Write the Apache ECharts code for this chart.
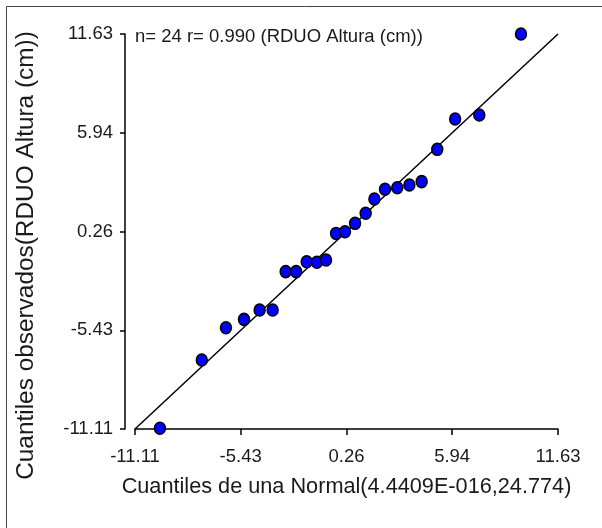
<!DOCTYPE html>
<html>
<head>
<meta charset="utf-8">
<script src="https://cdn.jsdelivr.net/npm/echarts@6/dist/echarts.min.js"></script>
<style>html,body{margin:0;padding:0;background:#fff}#c{width:602px;height:528px}</style>
</head>
<body>
<div id="c"></div>
<script>
// Theoretical normal quantiles (x) and observed quantiles (y)
const theoQuantiles = [-9.77,-7.52,-6.22,-5.25,-4.41,-3.71,-3.01,-2.45,-1.88,-1.33,-0.84,-0.30,0.18,0.72,1.29,1.76,2.33,2.99,3.64,4.30,5.14,6.10,7.40,9.64];
const obsQuantiles  = [-11.07,-7.14,-5.28,-4.80,-4.26,-4.26,-2.05,-2.05,-1.48,-1.51,-1.38,0.15,0.25,0.73,1.31,2.13,2.69,2.78,2.94,3.13,4.99,6.74,6.97,11.63];
const refLine = [[-11.11,-11.11],[11.63,11.63]];
const xTicks = [-11.11,-5.43,0.26,5.94,11.63];
const yTicks = [-11.11,-5.43,0.26,5.94,11.63];
const axisMin = -11.11, axisMax = 11.63;
const titleText = 'n= 24 r= 0.990 (RDUO Altura (cm))';
const xName = 'Cuantiles de una Normal(4.4409E-016,24.774)';
const yName = 'Cuantiles observados(RDUO Altura (cm))';

const pts = theoQuantiles.map((x,i)=>[x,obsQuantiles[i]]);
const chart = echarts.init(document.getElementById('c'), null, {renderer:'canvas'});
const FONT = '"Liberation Sans", Arial, sans-serif';
const TXT = '#1a1a1a';
chart.setOption({
  animation:false,
  backgroundColor:'#fff',
  grid:{left:135,right:44,top:34,bottom:99,containLabel:false},
  graphic:[
    {type:'rect',shape:{x:6.5,y:6.5,width:800,height:800},style:{fill:null,stroke:'#444',lineWidth:1},silent:true},
    {type:'text',left:135,top:27.5,style:{text:titleText,font:'18.5px '+FONT,fill:TXT}}
  ],
  xAxis:{type:'value',min:axisMin,max:axisMax,
    name:xName,nameLocation:'middle',nameGap:47,
    nameTextStyle:{fontFamily:FONT,fontSize:21.7,color:TXT},
    axisLine:{onZero:false,lineStyle:{color:'#000',width:1.5}},
    axisTick:{show:true,length:6,lineStyle:{color:'#000',width:1.5},customValues:xTicks},
    axisLabel:{customValues:xTicks,margin:18,fontFamily:FONT,fontSize:18.5,color:TXT,formatter:v=>v.toFixed(2)},
    splitLine:{show:false}},
  yAxis:{type:'value',min:axisMin,max:axisMax,offset:10,
    name:yName,nameLocation:'middle',nameGap:87,
    nameTextStyle:{fontFamily:FONT,fontSize:24.4,color:TXT,padding:[0,48,0,0]},
    axisLine:{show:true,onZero:false,lineStyle:{color:'#000',width:1.5}},
    axisTick:{show:true,length:5,lineStyle:{color:'#000',width:1.5},customValues:yTicks},
    axisLabel:{customValues:yTicks,margin:12,fontFamily:FONT,fontSize:18.5,color:TXT,formatter:v=>v.toFixed(2)},
    splitLine:{show:false}},
  series:[
    {type:'line',data:refLine,symbol:'none',lineStyle:{color:'#000',width:1.5},z:2,silent:true,clip:false},
    {type:'scatter',data:pts,symbol:'circle',symbolSize:[11,12],clip:false,
      itemStyle:{color:'#0000ff',borderColor:'#000',borderWidth:1.5,opacity:1},z:3}
  ]
});
</script>
</body>
</html>
